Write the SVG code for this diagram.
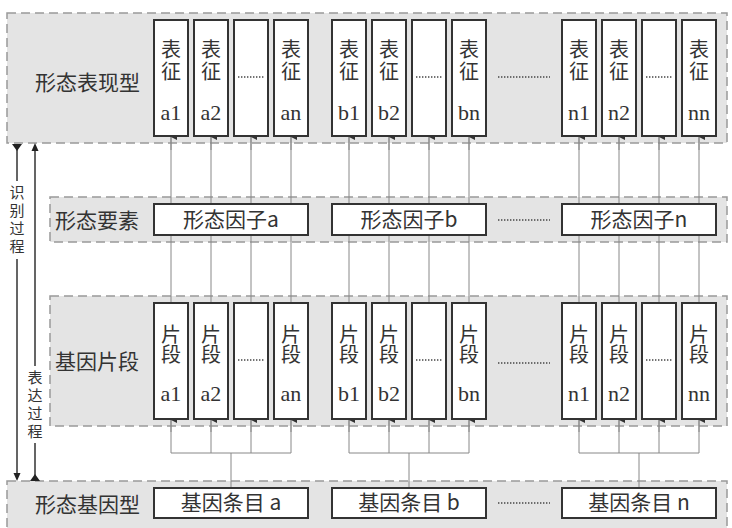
<svg xmlns="http://www.w3.org/2000/svg" width="732" height="528" viewBox="0 0 732 528">
<style>
.panel{fill:#e4e4e4;stroke:#999;stroke-width:1.5;stroke-dasharray:9,5}
.box{fill:#fff;stroke:#333;stroke-width:2}
.cjk{font-family:"Noto Sans CJK SC","Noto Sans",sans-serif;fill:#333}
.ser{font-family:"Liberation Serif",serif;fill:#333;font-size:22px}
.lbl{font-size:21px}
.ch{font-size:20px;text-anchor:middle}
.vert{font-size:15px;writing-mode:vertical-rl;letter-spacing:3px}
.dots{stroke:#444;stroke-width:1.3;stroke-dasharray:1.4,1.6;fill:none}
.conn{stroke:#888;stroke-width:1;fill:none}
.lead{stroke:#333;stroke-width:1.5;fill:none}
</style>
<defs>
<marker id="up" viewBox="0 0 6 6" refX="3" refY="0" markerWidth="6" markerHeight="6" markerUnits="userSpaceOnUse" orient="auto-start-reverse"><path d="M0,6 L3,0 L6,6 Z" fill="#333"/></marker>
<g id="te"><rect class="box" x="0" y="0" width="34" height="116"/><text class="cjk ch" x="17" y="37">表</text><text class="cjk ch" x="17" y="59">征</text></g>
<g id="tdots"><rect class="box" x="0" y="0" width="34" height="116"/><line class="dots" x1="4" y1="57" x2="30" y2="57"/></g>
<g id="ge"><rect class="box" x="0" y="0" width="34" height="116"/><text class="cjk ch" x="17" y="39">片</text><text class="cjk ch" x="17" y="59">段</text></g>
</defs>

<g id="panels">
<rect class="panel" x="7" y="13" width="720" height="130"/>
<rect class="panel" x="50" y="197" width="677" height="45"/>
<rect class="panel" x="50" y="296" width="677" height="130"/>
<rect class="panel" x="7" y="481" width="720" height="52"/>
</g>

<g id="connectors">
<g class="conn">
<line x1="171" y1="137" x2="171" y2="303"/><line x1="211" y1="137" x2="211" y2="303"/><line x1="251" y1="137" x2="251" y2="303"/><line x1="291" y1="137" x2="291" y2="303"/>
<line x1="349" y1="137" x2="349" y2="303"/><line x1="389" y1="137" x2="389" y2="303"/><line x1="429" y1="137" x2="429" y2="303"/><line x1="469" y1="137" x2="469" y2="303"/>
<line x1="579" y1="137" x2="579" y2="303"/><line x1="619" y1="137" x2="619" y2="303"/><line x1="659" y1="137" x2="659" y2="303"/><line x1="699" y1="137" x2="699" y2="303"/>
</g>
<g class="conn" marker-end="url(#up)">
<line x1="171" y1="150" x2="171" y2="137"/><line x1="211" y1="150" x2="211" y2="137"/><line x1="251" y1="150" x2="251" y2="137"/><line x1="291" y1="150" x2="291" y2="137"/>
<line x1="349" y1="150" x2="349" y2="137"/><line x1="389" y1="150" x2="389" y2="137"/><line x1="429" y1="150" x2="429" y2="137"/><line x1="469" y1="150" x2="469" y2="137"/>
<line x1="579" y1="150" x2="579" y2="137"/><line x1="619" y1="150" x2="619" y2="137"/><line x1="659" y1="150" x2="659" y2="137"/><line x1="699" y1="150" x2="699" y2="137"/>
</g>
<g class="conn">
<path d="M171,420 V453 H291 V420 M211,420 V453 M251,420 V453 M231,453 V488"/>
<path d="M349,420 V453 H469 V420 M389,420 V453 M429,420 V453 M409,453 V488"/>
<path d="M579,420 V453 H699 V420 M619,420 V453 M659,420 V453 M639,453 V488"/>
</g>
<g class="conn" marker-end="url(#up)">
<line x1="171" y1="432" x2="171" y2="420"/><line x1="211" y1="432" x2="211" y2="420"/><line x1="251" y1="432" x2="251" y2="420"/><line x1="291" y1="432" x2="291" y2="420"/>
<line x1="349" y1="432" x2="349" y2="420"/><line x1="389" y1="432" x2="389" y2="420"/><line x1="429" y1="432" x2="429" y2="420"/><line x1="469" y1="432" x2="469" y2="420"/>
<line x1="579" y1="432" x2="579" y2="420"/><line x1="619" y1="432" x2="619" y2="420"/><line x1="659" y1="432" x2="659" y2="420"/><line x1="699" y1="432" x2="699" y2="420"/>
</g>
<g id="identify">
<path class="lead" d="M17,148 V181 M17,259 V474"/>
<path d="M12,144 L22,144 L17,151 Z" fill="#222"/>
<path d="M13.5,473 L20.5,473 L17,481 Z" fill="#222"/>
</g>
<g id="express">
<path class="lead" d="M35,150 V366 M35,443 V476"/>
<path d="M31.5,151 L38.5,151 L35,143 Z" fill="#222"/>
<path d="M30,481 L40,481 L35,474 Z" fill="#222"/>
</g>
</g>

<g id="labels">
<text class="cjk lbl" x="35" y="90">形态表现型</text>
<text class="cjk lbl" x="55" y="228">形态要素</text>
<text class="cjk lbl" x="55" y="369">基因片段</text>
<text class="cjk lbl" x="35" y="512">形态基因型</text>
<text class="cjk vert" x="17" y="185">识别过程</text>
<text class="cjk vert" x="35" y="370">表达过程</text>
</g>

<g id="phenotype-boxes">
<g id="t-a1"><use href="#te" x="154" y="20"/><text class="ser" x="171" y="120" text-anchor="middle">a1</text></g>
<g id="t-a2"><use href="#te" x="194" y="20"/><text class="ser" x="211" y="120" text-anchor="middle">a2</text></g>
<g id="t-ad"><use href="#tdots" x="234" y="20"/></g>
<g id="t-an"><use href="#te" x="274" y="20"/><text class="ser" x="291" y="120" text-anchor="middle">an</text></g>
<g id="t-b1"><use href="#te" x="332" y="20"/><text class="ser" x="349" y="120" text-anchor="middle">b1</text></g>
<g id="t-b2"><use href="#te" x="372" y="20"/><text class="ser" x="389" y="120" text-anchor="middle">b2</text></g>
<g id="t-bd"><use href="#tdots" x="412" y="20"/></g>
<g id="t-bn"><use href="#te" x="452" y="20"/><text class="ser" x="469" y="120" text-anchor="middle">bn</text></g>
<g id="t-n1"><use href="#te" x="562" y="20"/><text class="ser" x="579" y="120" text-anchor="middle">n1</text></g>
<g id="t-n2"><use href="#te" x="602" y="20"/><text class="ser" x="619" y="120" text-anchor="middle">n2</text></g>
<g id="t-nd"><use href="#tdots" x="642" y="20"/></g>
<g id="t-nn"><use href="#te" x="682" y="20"/><text class="ser" x="699" y="120" text-anchor="middle">nn</text></g>
<line class="dots" x1="498" y1="77" x2="550" y2="77"/>
</g>

<g id="factor-boxes">
<g id="f-a"><rect class="box" x="154" y="204" width="154" height="31"/><text class="cjk lbl" x="231" y="227" text-anchor="middle">形态因子a</text></g>
<g id="f-b"><rect class="box" x="332" y="204" width="154" height="31"/><text class="cjk lbl" x="409" y="227" text-anchor="middle">形态因子b</text></g>
<g id="f-n"><rect class="box" x="562" y="204" width="154" height="31"/><text class="cjk lbl" x="639" y="227" text-anchor="middle">形态因子n</text></g>
<line class="dots" x1="498" y1="220" x2="550" y2="220"/>
</g>

<g id="gene-boxes">
<g id="g-a1"><use href="#ge" x="154" y="303"/><text class="ser" x="171" y="401" text-anchor="middle">a1</text></g>
<g id="g-a2"><use href="#ge" x="194" y="303"/><text class="ser" x="211" y="401" text-anchor="middle">a2</text></g>
<g id="g-ad"><use href="#tdots" x="234" y="303"/></g>
<g id="g-an"><use href="#ge" x="274" y="303"/><text class="ser" x="291" y="401" text-anchor="middle">an</text></g>
<g id="g-b1"><use href="#ge" x="332" y="303"/><text class="ser" x="349" y="401" text-anchor="middle">b1</text></g>
<g id="g-b2"><use href="#ge" x="372" y="303"/><text class="ser" x="389" y="401" text-anchor="middle">b2</text></g>
<g id="g-bd"><use href="#tdots" x="412" y="303"/></g>
<g id="g-bn"><use href="#ge" x="452" y="303"/><text class="ser" x="469" y="401" text-anchor="middle">bn</text></g>
<g id="g-n1"><use href="#ge" x="562" y="303"/><text class="ser" x="579" y="401" text-anchor="middle">n1</text></g>
<g id="g-n2"><use href="#ge" x="602" y="303"/><text class="ser" x="619" y="401" text-anchor="middle">n2</text></g>
<g id="g-nd"><use href="#tdots" x="642" y="303"/></g>
<g id="g-nn"><use href="#ge" x="682" y="303"/><text class="ser" x="699" y="401" text-anchor="middle">nn</text></g>
<line class="dots" x1="498" y1="363" x2="550" y2="363"/>
</g>

<g id="entry-boxes">
<g id="e-a"><rect class="box" x="154" y="488" width="154" height="30"/><text class="cjk lbl" x="231" y="510" text-anchor="middle">基因条目 a</text></g>
<g id="e-b"><rect class="box" x="332" y="488" width="154" height="30"/><text class="cjk lbl" x="409" y="510" text-anchor="middle">基因条目 b</text></g>
<g id="e-n"><rect class="box" x="562" y="488" width="154" height="30"/><text class="cjk lbl" x="639" y="510" text-anchor="middle">基因条目 n</text></g>
<line class="dots" x1="498" y1="503" x2="550" y2="503"/>
</g>
</svg>
